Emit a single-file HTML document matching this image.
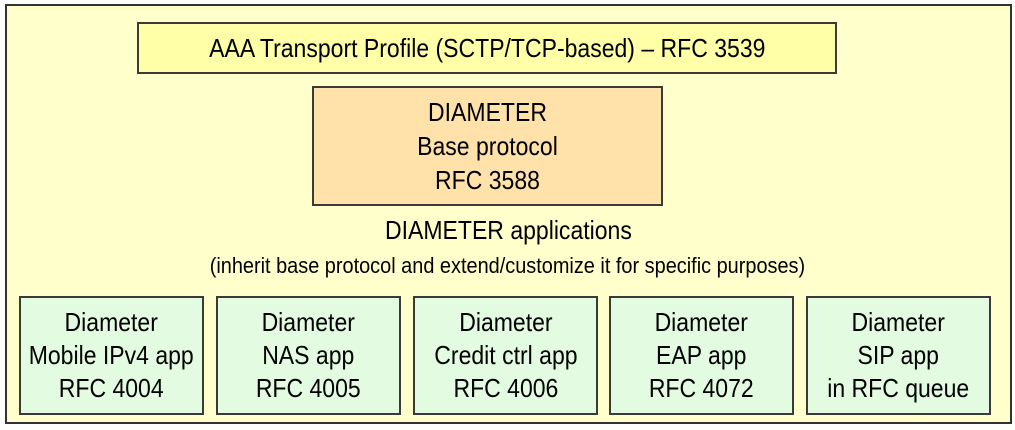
<!DOCTYPE html>
<html><head><meta charset="utf-8"><style>
body{margin:0;width:1015px;height:430px;background:#fff;position:relative;overflow:hidden;
font-family:"Liberation Sans Narrow","Liberation Sans",sans-serif;color:#000}
.b{position:absolute;box-sizing:border-box;border:2px solid #3a3a3a;display:flex;flex-direction:column;align-items:center;justify-content:center;text-align:center}
.t{position:absolute;left:0;width:1015px;text-align:center;white-space:nowrap}
s{text-decoration:none;display:inline-block;transform:scaleX(0.885);white-space:nowrap}
.app{top:296px;width:185px;height:119px;background:#e3fbe0;font-size:26px;line-height:33px}
</style></head><body>
<div class="b" style="left:5px;top:4px;width:1007px;height:420px;background:#ffffcc;border-color:#333"></div>
<div class="b" style="left:137px;top:22px;width:700px;height:52px;background:#ffffa8;font-size:26px"><s>AAA Transport Profile (SCTP/TCP-based) – RFC 3539</s></div>
<div class="b" style="left:312px;top:86px;width:351px;height:120px;background:#ffe1aa;font-size:26px;line-height:34px"><s>DIAMETER<br>Base protocol<br>RFC 3588</s></div>
<div class="t" style="top:215px;left:1px;font-size:26px"><s>DIAMETER applications</s></div>
<div class="t" style="top:253px;font-size:22.5px"><s>(inherit base protocol and extend/customize it for specific purposes)</s></div>
<div class="b app" style="left:19px"><s>Diameter<br>Mobile IPv4 app<br>RFC 4004</s></div>
<div class="b app" style="left:216px"><s>Diameter<br>NAS app<br>RFC 4005</s></div>
<div class="b app" style="left:413px"><s>Diameter<br>Credit ctrl app<br>RFC 4006</s></div>
<div class="b app" style="left:609px"><s>Diameter<br>EAP app<br>RFC 4072</s></div>
<div class="b app" style="left:806px"><s>Diameter<br>SIP app<br>in RFC queue</s></div>
</body></html>
